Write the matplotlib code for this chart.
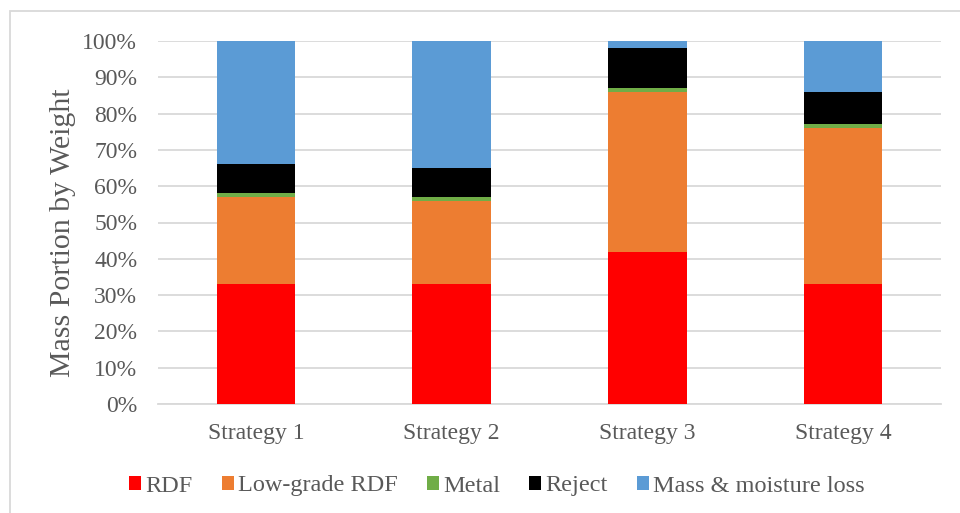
import matplotlib
matplotlib.use("Agg")
import matplotlib.pyplot as plt
from matplotlib.patches import Rectangle, Patch
from matplotlib.ticker import PercentFormatter
import numpy as np

strategies = ["Strategy 1", "Strategy 2", "Strategy 3", "Strategy 4"]
rdf = [33, 33, 42, 33]
low_grade_rdf = [24, 23, 44, 43]
metal = [1, 1, 1, 1]
reject = [8, 8, 11, 9]
mass_loss = [34, 35, 2, 14]

series_names = ["RDF", "Low-grade RDF", "Metal", "Reject", "Mass & moisture loss"]
series_colors = ["#FF0000", "#ED7D31", "#70AD47", "#000000", "#5B9BD5"]

plt.rcParams["font.family"] = ["Liberation Serif", "DejaVu Serif"]
text_color = "#595959"
grid_color = "#D9D9D9"

fig = plt.figure(figsize=(9.6, 5.13), dpi=100)
ax = fig.add_axes([158 / 960, 1 - 404 / 513, (941 - 158) / 960, (404 - 41) / 513])

x = np.arange(len(strategies))
bottom = np.zeros(len(strategies))
for vals, name, color in zip([rdf, low_grade_rdf, metal, reject, mass_loss],
                             series_names, series_colors):
    ax.bar(x, vals, width=0.4, bottom=bottom, color=color, label=name, zorder=3)
    bottom += np.array(vals)

ax.set_xlim(-0.5, len(strategies) - 0.5)
ax.set_ylim(0, 100)
ax.set_yticks(np.arange(0, 101, 10))
ax.yaxis.set_major_formatter(PercentFormatter(decimals=0))
ax.set_xticks(x)
ax.set_xticklabels(strategies)
ax.grid(axis="y", color=grid_color, linewidth=1.3, zorder=0)
for s in ["top", "right", "left"]:
    ax.spines[s].set_visible(False)
ax.spines["bottom"].set_color(grid_color)
ax.spines["bottom"].set_linewidth(1.3)
ax.tick_params(axis="both", length=0, labelsize=17, colors=text_color)
ax.tick_params(axis="x", pad=14)
ax.tick_params(axis="y", pad=15)
ax.set_ylabel("Mass Portion by Weight", fontsize=21.5, color=text_color)
ax.yaxis.set_label_coords((76 - 158) / 783, (404 - 233) / 363)

handles = [Patch(facecolor=c, label=n) for n, c in zip(series_names, series_colors)]
fig.legend(handles=handles, loc="center", bbox_to_anchor=(497 / 960, 1 - 486 / 513),
           ncol=5, frameon=False, fontsize=17.5, labelcolor=text_color,
           handlelength=0.5, handleheight=0.5, handletextpad=0.17,
           columnspacing=1.2, borderpad=0)

# outer chart frame
fig.patches.append(Rectangle((10 / 960, -0.1), 1.2, 1 - 11 / 513 + 0.1,
                             transform=fig.transFigure, fill=False,
                             edgecolor=grid_color, linewidth=1.3))

fig.savefig("out.png", dpi=100, facecolor="white")
